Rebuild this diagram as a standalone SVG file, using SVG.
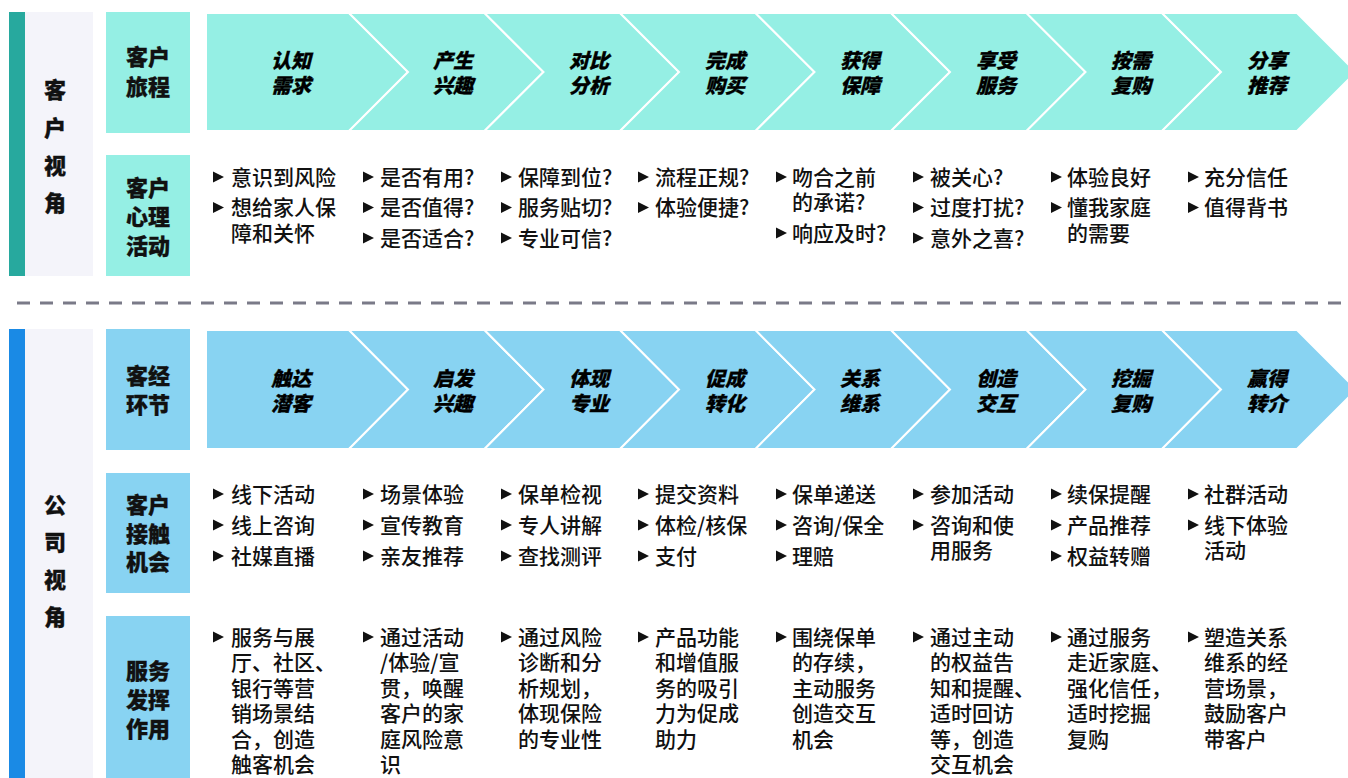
<svg xmlns="http://www.w3.org/2000/svg" xmlns:xlink="http://www.w3.org/1999/xlink" width="1348" height="778" viewBox="0 0 1348 778">
<defs>
<style>
text{font-family:"Noto Sans CJK SC","Noto Sans",sans-serif;fill:#111}
.side{font-size:22px;font-weight:900;text-anchor:middle;stroke:#111;stroke-width:0.3}
.lab{font-size:22px;font-weight:900;text-anchor:middle;stroke:#111;stroke-width:0.3}
.chv{font-size:20px;font-weight:900;font-style:italic;text-anchor:middle;fill:#000;stroke:#000;stroke-width:0.3}
.bt{font-size:21px;font-weight:500}
.ca{fill:#95EFE4;stroke:#fff;stroke-width:2}
.cb{fill:#88D3F2;stroke:#fff;stroke-width:2}
.ba{fill:#95EFE4}
.bb{fill:#88D3F2}
.gp{fill:#F4F4FA}
</style>
<path id="tri" d="M0,-5.5 L11,0 L0,5.5 Z" fill="#111"/>
</defs>

<!-- side panels -->
<g id="customer-view">
<rect x="25" y="12" width="68" height="264" class="gp"/>
<rect x="9" y="12" width="16" height="264" fill="#27A99E"/>
<text class="side" x="55" y="98">客</text>
<text class="side" x="55" y="136">户</text>
<text class="side" x="55" y="174">视</text>
<text class="side" x="55" y="211">角</text>
</g>
<g id="company-view">
<rect x="25" y="329" width="68" height="460" class="gp"/>
<rect x="9" y="329" width="16" height="460" fill="#1A8AE5"/>
<text class="side" x="55" y="513">公</text>
<text class="side" x="55" y="550">司</text>
<text class="side" x="55" y="588">视</text>
<text class="side" x="55" y="625">角</text>
</g>

<!-- row labels -->
<g id="label-journey">
<rect x="106" y="12" width="84" height="121" class="ba"/>
<text class="lab" x="148" y="65">客户</text>
<text class="lab" x="148" y="95">旅程</text>
</g>
<g id="label-psych">
<rect x="106" y="155" width="84" height="121" class="ba"/>
<text class="lab" x="148" y="195.5">客户</text>
<text class="lab" x="148" y="224.5">心理</text>
<text class="lab" x="148" y="253.5">活动</text>
</g>
<g id="label-stage">
<rect x="106" y="329" width="84" height="121" class="bb"/>
<text class="lab" x="148" y="384">客经</text>
<text class="lab" x="148" y="413">环节</text>
</g>
<g id="label-contact">
<rect x="106" y="473" width="84" height="120" class="bb"/>
<text class="lab" x="148" y="513">客户</text>
<text class="lab" x="148" y="541.5">接触</text>
<text class="lab" x="148" y="570">机会</text>
</g>
<g id="label-service">
<rect x="106" y="616" width="84" height="170" class="bb"/>
<text class="lab" x="148" y="679">服务</text>
<text class="lab" x="148" y="708">发挥</text>
<text class="lab" x="148" y="736.5">作用</text>
</g>

<!-- journey chevrons -->
<g id="journey-1"><polygon class="ca" points="206,13 349,13 408,72 349,131 206,131"/><text class="chv" x="291" y="67.5">认知</text><text class="chv" x="291" y="92.5">需求</text></g>
<g id="journey-2"><polygon class="ca" points="349,13 484.5,13 543.5,72 484.5,131 349,131 408,72"/><text class="chv" x="453" y="67.5">产生</text><text class="chv" x="453" y="92.5">兴趣</text></g>
<g id="journey-3"><polygon class="ca" points="484.5,13 620,13 679,72 620,131 484.5,131 543.5,72"/><text class="chv" x="589" y="67.5">对比</text><text class="chv" x="589" y="92.5">分析</text></g>
<g id="journey-4"><polygon class="ca" points="620,13 755.5,13 814.5,72 755.5,131 620,131 679,72"/><text class="chv" x="725" y="67.5">完成</text><text class="chv" x="725" y="92.5">购买</text></g>
<g id="journey-5"><polygon class="ca" points="755.5,13 891,13 950,72 891,131 755.5,131 814.5,72"/><text class="chv" x="860" y="67.5">获得</text><text class="chv" x="860" y="92.5">保障</text></g>
<g id="journey-6"><polygon class="ca" points="891,13 1026.5,13 1085.5,72 1026.5,131 891,131 950,72"/><text class="chv" x="996" y="67.5">享受</text><text class="chv" x="996" y="92.5">服务</text></g>
<g id="journey-7"><polygon class="ca" points="1026.5,13 1162,13 1221,72 1162,131 1026.5,131 1085.5,72"/><text class="chv" x="1131" y="67.5">按需</text><text class="chv" x="1131" y="92.5">复购</text></g>
<g id="journey-8"><polygon class="ca" points="1162,13 1297,13 1356,72 1297,131 1162,131 1221,72"/><text class="chv" x="1267" y="67.5">分享</text><text class="chv" x="1267" y="92.5">推荐</text></g>

<!-- stage chevrons -->
<g id="stage-1"><polygon class="cb" points="206,330 349,330 408,389.5 349,449 206,449"/><text class="chv" x="291" y="385.5">触达</text><text class="chv" x="291" y="410.5">潜客</text></g>
<g id="stage-2"><polygon class="cb" points="349,330 484.5,330 543.5,389.5 484.5,449 349,449 408,389.5"/><text class="chv" x="453" y="385.5">启发</text><text class="chv" x="453" y="410.5">兴趣</text></g>
<g id="stage-3"><polygon class="cb" points="484.5,330 620,330 679,389.5 620,449 484.5,449 543.5,389.5"/><text class="chv" x="589" y="385.5">体现</text><text class="chv" x="589" y="410.5">专业</text></g>
<g id="stage-4"><polygon class="cb" points="620,330 755.5,330 814.5,389.5 755.5,449 620,449 679,389.5"/><text class="chv" x="725" y="385.5">促成</text><text class="chv" x="725" y="410.5">转化</text></g>
<g id="stage-5"><polygon class="cb" points="755.5,330 891,330 950,389.5 891,449 755.5,449 814.5,389.5"/><text class="chv" x="860" y="385.5">关系</text><text class="chv" x="860" y="410.5">维系</text></g>
<g id="stage-6"><polygon class="cb" points="891,330 1026.5,330 1085.5,389.5 1026.5,449 891,449 950,389.5"/><text class="chv" x="996" y="385.5">创造</text><text class="chv" x="996" y="410.5">交互</text></g>
<g id="stage-7"><polygon class="cb" points="1026.5,330 1162,330 1221,389.5 1162,449 1026.5,449 1085.5,389.5"/><text class="chv" x="1131" y="385.5">挖掘</text><text class="chv" x="1131" y="410.5">复购</text></g>
<g id="stage-8"><polygon class="cb" points="1162,330 1297,330 1356.5,389.5 1297,449 1162,449 1221,389.5"/><text class="chv" x="1267" y="385.5">赢得</text><text class="chv" x="1267" y="410.5">转介</text></g>

<!-- divider -->
<g id="connectors">
<line x1="17" y1="303" x2="1348" y2="303" stroke="#7A7A88" stroke-width="3" stroke-dasharray="13 10"/>
</g>

<!-- psych bullets -->
<g id="psych-1">
<use href="#tri" x="213" y="177"/><text class="bt" x="231" y="184.5">意识到风险</text>
<use href="#tri" x="213" y="207.5"/><text class="bt" x="231" y="215">想给家人保</text><text class="bt" x="231" y="240.5">障和关怀</text>
</g>
<g id="psych-2">
<use href="#tri" x="363" y="177"/><text class="bt" x="380" y="184.5">是否有用?</text>
<use href="#tri" x="363" y="207.5"/><text class="bt" x="380" y="215">是否值得?</text>
<use href="#tri" x="363" y="238"/><text class="bt" x="380" y="245.5">是否适合?</text>
</g>
<g id="psych-3">
<use href="#tri" x="501" y="177"/><text class="bt" x="518" y="184.5">保障到位?</text>
<use href="#tri" x="501" y="207.5"/><text class="bt" x="518" y="215">服务贴切?</text>
<use href="#tri" x="501" y="238"/><text class="bt" x="518" y="245.5">专业可信?</text>
</g>
<g id="psych-4">
<use href="#tri" x="638" y="177"/><text class="bt" x="655" y="184.5">流程正规?</text>
<use href="#tri" x="638" y="207.5"/><text class="bt" x="655" y="215">体验便捷?</text>
</g>
<g id="psych-5">
<use href="#tri" x="776" y="177"/><text class="bt" x="792" y="184.5">吻合之前</text><text class="bt" x="792" y="210">的承诺?</text>
<use href="#tri" x="776" y="233"/><text class="bt" x="792" y="240.5">响应及时?</text>
</g>
<g id="psych-6">
<use href="#tri" x="913" y="177"/><text class="bt" x="930" y="184.5">被关心?</text>
<use href="#tri" x="913" y="207.5"/><text class="bt" x="930" y="215">过度打扰?</text>
<use href="#tri" x="913" y="238"/><text class="bt" x="930" y="245.5">意外之喜?</text>
</g>
<g id="psych-7">
<use href="#tri" x="1051" y="177"/><text class="bt" x="1067" y="184.5">体验良好</text>
<use href="#tri" x="1051" y="207.5"/><text class="bt" x="1067" y="215">懂我家庭</text><text class="bt" x="1067" y="240.5">的需要</text>
</g>
<g id="psych-8">
<use href="#tri" x="1188" y="177"/><text class="bt" x="1204" y="184.5">充分信任</text>
<use href="#tri" x="1188" y="207.5"/><text class="bt" x="1204" y="215">值得背书</text>
</g>

<!-- contact bullets -->
<g id="contact-1">
<use href="#tri" x="213" y="494"/><text class="bt" x="231" y="501.5">线下活动</text>
<use href="#tri" x="213" y="525"/><text class="bt" x="231" y="532.5">线上咨询</text>
<use href="#tri" x="213" y="556"/><text class="bt" x="231" y="563.5">社媒直播</text>
</g>
<g id="contact-2">
<use href="#tri" x="363" y="494"/><text class="bt" x="380" y="501.5">场景体验</text>
<use href="#tri" x="363" y="525"/><text class="bt" x="380" y="532.5">宣传教育</text>
<use href="#tri" x="363" y="556"/><text class="bt" x="380" y="563.5">亲友推荐</text>
</g>
<g id="contact-3">
<use href="#tri" x="501" y="494"/><text class="bt" x="518" y="501.5">保单检视</text>
<use href="#tri" x="501" y="525"/><text class="bt" x="518" y="532.5">专人讲解</text>
<use href="#tri" x="501" y="556"/><text class="bt" x="518" y="563.5">查找测评</text>
</g>
<g id="contact-4">
<use href="#tri" x="638" y="494"/><text class="bt" x="655" y="501.5">提交资料</text>
<use href="#tri" x="638" y="525"/><text class="bt" x="655" y="532.5">体检/核保</text>
<use href="#tri" x="638" y="556"/><text class="bt" x="655" y="563.5">支付</text>
</g>
<g id="contact-5">
<use href="#tri" x="776" y="494"/><text class="bt" x="792" y="501.5">保单递送</text>
<use href="#tri" x="776" y="525"/><text class="bt" x="792" y="532.5">咨询/保全</text>
<use href="#tri" x="776" y="556"/><text class="bt" x="792" y="563.5">理赔</text>
</g>
<g id="contact-6">
<use href="#tri" x="913" y="494"/><text class="bt" x="930" y="501.5">参加活动</text>
<use href="#tri" x="913" y="525"/><text class="bt" x="930" y="532.5">咨询和使</text><text class="bt" x="930" y="557.5">用服务</text>
</g>
<g id="contact-7">
<use href="#tri" x="1051" y="494"/><text class="bt" x="1067" y="501.5">续保提醒</text>
<use href="#tri" x="1051" y="525"/><text class="bt" x="1067" y="532.5">产品推荐</text>
<use href="#tri" x="1051" y="556"/><text class="bt" x="1067" y="563.5">权益转赠</text>
</g>
<g id="contact-8">
<use href="#tri" x="1188" y="494"/><text class="bt" x="1204" y="501.5">社群活动</text>
<use href="#tri" x="1188" y="525"/><text class="bt" x="1204" y="532.5">线下体验</text><text class="bt" x="1204" y="557.5">活动</text>
</g>

<!-- service bullets -->
<g id="service-1">
<use href="#tri" x="213" y="637"/>
<text class="bt" x="231" y="644.5">服务与展</text><text class="bt" x="231" y="670">厅、社区、</text><text class="bt" x="231" y="695.5">银行等营</text><text class="bt" x="231" y="721">销场景结</text><text class="bt" x="231" y="746.5">合，创造</text><text class="bt" x="231" y="772">触客机会</text>
</g>
<g id="service-2">
<use href="#tri" x="363" y="637"/>
<text class="bt" x="380" y="644.5">通过活动</text><text class="bt" x="380" y="670">/体验/宣</text><text class="bt" x="380" y="695.5">贯，唤醒</text><text class="bt" x="380" y="721">客户的家</text><text class="bt" x="380" y="746.5">庭风险意</text><text class="bt" x="380" y="772">识</text>
</g>
<g id="service-3">
<use href="#tri" x="501" y="637"/>
<text class="bt" x="518" y="644.5">通过风险</text><text class="bt" x="518" y="670">诊断和分</text><text class="bt" x="518" y="695.5">析规划，</text><text class="bt" x="518" y="721">体现保险</text><text class="bt" x="518" y="746.5">的专业性</text>
</g>
<g id="service-4">
<use href="#tri" x="638" y="637"/>
<text class="bt" x="655" y="644.5">产品功能</text><text class="bt" x="655" y="670">和增值服</text><text class="bt" x="655" y="695.5">务的吸引</text><text class="bt" x="655" y="721">力为促成</text><text class="bt" x="655" y="746.5">助力</text>
</g>
<g id="service-5">
<use href="#tri" x="776" y="637"/>
<text class="bt" x="792" y="644.5">围绕保单</text><text class="bt" x="792" y="670">的存续，</text><text class="bt" x="792" y="695.5">主动服务</text><text class="bt" x="792" y="721">创造交互</text><text class="bt" x="792" y="746.5">机会</text>
</g>
<g id="service-6">
<use href="#tri" x="913" y="637"/>
<text class="bt" x="930" y="644.5">通过主动</text><text class="bt" x="930" y="670">的权益告</text><text class="bt" x="930" y="695.5">知和提醒、</text><text class="bt" x="930" y="721">适时回访</text><text class="bt" x="930" y="746.5">等，创造</text><text class="bt" x="930" y="772">交互机会</text>
</g>
<g id="service-7">
<use href="#tri" x="1051" y="637"/>
<text class="bt" x="1067" y="644.5">通过服务</text><text class="bt" x="1067" y="670">走近家庭、</text><text class="bt" x="1067" y="695.5">强化信任，</text><text class="bt" x="1067" y="721">适时挖掘</text><text class="bt" x="1067" y="746.5">复购</text>
</g>
<g id="service-8">
<use href="#tri" x="1188" y="637"/>
<text class="bt" x="1204" y="644.5">塑造关系</text><text class="bt" x="1204" y="670">维系的经</text><text class="bt" x="1204" y="695.5">营场景，</text><text class="bt" x="1204" y="721">鼓励客户</text><text class="bt" x="1204" y="746.5">带客户</text>
</g>
</svg>
